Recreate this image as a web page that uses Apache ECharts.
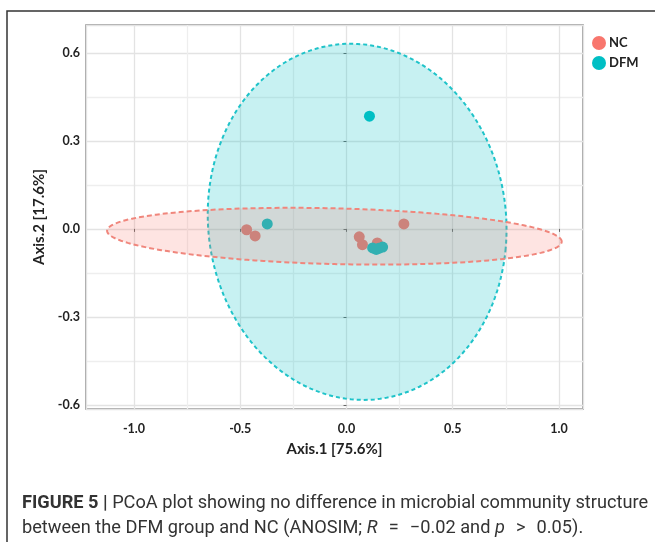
<!DOCTYPE html>
<html>
<head>
<meta charset="utf-8">
<script src="https://cdn.jsdelivr.net/npm/echarts@6/dist/echarts.min.js"></script>
<style>
html,body{margin:0;padding:0;background:#fff;}
#chart{width:655px;height:542px;}
</style>
</head>
<body>
<div id="chart"></div>
<script>
// ---- data ----
const seriesNames = ['NC', 'DFM'];
const ncX = [-0.47, -0.43, 0.06, 0.075, 0.145, 0.27];
const ncY = [-0.003, -0.024, -0.027, -0.054, -0.048, 0.017];
const dfmX = [0.108, -0.373, 0.123, 0.14, 0.152, 0.17];
const dfmY = [0.384, 0.017, -0.065, -0.07, -0.066, -0.062];
// ellipse: centre x, centre y, semi-axis a, semi-axis b, rotation (deg)
const ncEllipse = [-0.057, -0.025, 1.07, 0.095, -1];
const dfmEllipse = [0.05, 0.024, 0.705, 0.605, -8];
const xTitle = 'Axis.1 [75.6%]';
const yTitle = 'Axis.2 [17.6%]';
const xRange = [-1.226, 1.113];
const yRange = [-0.614, 0.695];

const NC_COLOR = '#F8766D';
const DFM_COLOR = '#00BFC4';
const FONT = 'Lato';

function zip(xs, ys) { return xs.map((x, i) => [x, ys[i]]); }

function ellipseRenderer(fill, stroke, dash, width) {
  return function (params, api) {
    const cx = api.value(0), cy = api.value(1), a = api.value(2), b = api.value(3);
    const ang = api.value(4) * Math.PI / 180;
    const pts = [];
    const N = 160;
    for (let i = 0; i < N; i++) {
      const t = i / N * 2 * Math.PI;
      const x = cx + a * Math.cos(t) * Math.cos(ang) - b * Math.sin(t) * Math.sin(ang);
      const y = cy + a * Math.cos(t) * Math.sin(ang) + b * Math.sin(t) * Math.cos(ang);
      pts.push(api.coord([x, y]));
    }
    return {
      type: 'polygon',
      shape: { points: pts },
      style: { fill: fill, stroke: stroke, lineWidth: width, lineDash: dash }
    };
  };
}

const SP = '\u2002\u200A';
const chart = echarts.init(document.getElementById('chart'), null, { renderer: 'canvas' });
chart.setOption({
  animation: false,
  backgroundColor: '#fff',
  textStyle: { fontFamily: FONT },
  title: {
    left: 22, top: 491, padding: 0,
    text: '{b|FIGURE 5 |} PCoA plot showing no difference in microbial community structure\nbetween the DFM group and NC (ANOSIM; {i|R}' + SP + '=' + SP + '\u22120.02 and {i|p}' + SP + '>' + SP + '0.05).',
    textStyle: {
      fontFamily: 'Roboto', fontSize: 18.2, fontWeight: 'normal', color: '#333', lineHeight: 25,
      rich: {
        b: { fontFamily: 'Roboto', fontSize: 18.2, fontWeight: 'bold', color: '#333', lineHeight: 25 },
        i: { fontFamily: 'Roboto', fontSize: 18.2, fontStyle: 'italic', color: '#333', lineHeight: 25 }
      }
    }
  },
  graphic: [{
    type: 'rect', silent: true,
    shape: { x: 7, y: 11, width: 700, height: 600 },
    style: { fill: 'none', stroke: '#333', lineWidth: 1.5 }
  }],
  legend: {
    data: seriesNames,
    orient: 'vertical', left: 592, top: 36, padding: 0,
    itemWidth: 14, itemHeight: 14, itemGap: 6, icon: 'circle',
    textStyle: { fontFamily: FONT, fontWeight: 'bold', fontSize: 13, color: '#222', padding: [0, 0, 0, -2] }
  },
  grid: {
    left: 86, right: 72, top: 25, bottom: 133,
    show: true, borderColor: '#8a8a8a', borderWidth: 1.5, backgroundColor: 'transparent'
  },
  xAxis: {
    type: 'value', min: xRange[0], max: xRange[1], splitNumber: 5,
    name: xTitle, nameLocation: 'middle', nameGap: 33,
    nameTextStyle: { fontFamily: FONT, fontWeight: 'bold', fontSize: 15, color: '#222' },
    axisLine: { show: false },
    axisTick: { show: true, length: 3, lineStyle: { color: '#666' } },
    axisLabel: { showMinLabel: false, showMaxLabel: false, margin: 13, fontFamily: FONT, fontWeight: 'bold', fontSize: 12.5, color: '#222',
      formatter: v => v.toFixed(1) },
    splitLine: { show: true, lineStyle: { color: '#e3e3e3', width: 1.3 } },
    minorTick: { show: false, splitNumber: 2 },
    minorSplitLine: { show: true, lineStyle: { color: '#eeeeee', width: 1.3 } }
  },
  yAxis: {
    type: 'value', min: yRange[0], max: yRange[1], splitNumber: 5,
    name: yTitle, nameLocation: 'middle', nameGap: 38,
    nameTextStyle: { fontFamily: FONT, fontWeight: 'bold', fontSize: 15, color: '#222' },
    axisLine: { show: false },
    axisTick: { show: true, length: 3, lineStyle: { color: '#666' } },
    axisLabel: { showMinLabel: false, showMaxLabel: false, margin: 6, fontFamily: FONT, fontWeight: 'bold', fontSize: 12.5, color: '#222',
      formatter: v => v.toFixed(1) },
    splitLine: { show: true, lineStyle: { color: '#e3e3e3', width: 1.3 } },
    minorTick: { show: false, splitNumber: 2 },
    minorSplitLine: { show: true, lineStyle: { color: '#eeeeee', width: 1.3 } }
  },
  series: [
    {
      name: 'NC', type: 'scatter', z: 1, symbolSize: 11,
      itemStyle: { color: NC_COLOR, opacity: 1 },
      data: zip(ncX, ncY)
    },
    {
      name: 'DFM', type: 'scatter', z: 1, symbolSize: 11,
      itemStyle: { color: DFM_COLOR, opacity: 1 },
      data: zip(dfmX, dfmY)
    },
    {
      name: 'DFM ellipse', type: 'custom', z: 2, silent: true, clip: true,
      renderItem: ellipseRenderer('rgba(0,191,196,0.22)', '#1fc3c9', [4, 3], 2),
      encode: { x: 0, y: 1 },
      data: [dfmEllipse]
    },
    {
      name: 'NC ellipse', type: 'custom', z: 2, silent: true, clip: true,
      renderItem: ellipseRenderer('rgba(248,118,109,0.2)', '#f0867c', [5, 3], 2),
      encode: { x: 0, y: 1 },
      data: [ncEllipse]
    }
  ]
});
</script>
</body>
</html>
